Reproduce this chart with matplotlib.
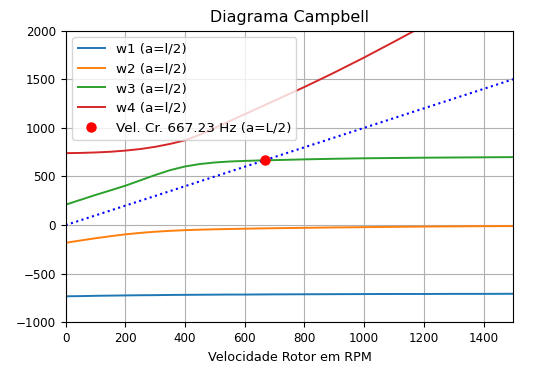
import matplotlib
matplotlib.use("Agg")
import matplotlib.pyplot as plt

rpm = [0, 50, 100, 150, 200, 250, 300, 350, 400, 450, 500, 550, 600, 650, 700,
       800, 900, 1000, 1100, 1200, 1300, 1400, 1500]
w1 = [-732, -730, -727, -725, -723, -721, -720, -718, -717, -716, -715, -714, -714, -713, -712,
      -711, -710, -709, -708, -708, -707, -707, -706]
w2 = [-182, -158, -135, -114, -95, -80, -68, -59, -52, -47, -43, -40, -37, -34, -32,
      -28, -24, -21, -18, -15, -13, -11, -10]
w3 = [210, 260, 310, 357, 405, 460, 515, 565, 603, 628, 644, 654, 660, 665, 668,
      676, 682, 687, 690, 693, 695, 697, 699]
w4 = [740, 742, 747, 754, 766, 782, 805, 835, 872, 930, 1000, 1070, 1140, 1210, 1280,
      1420, 1568, 1723, 1885, 2050, 2215, 2380, 2545]
ref_x = [0, 1500]
ref_y = [0, 1500]
crit_x = [667.23]
crit_y = [667.23]
labels = ["w1 (a=l/2)", "w2 (a=l/2)", "w3 (a=l/2)", "w4 (a=l/2)"]
crit_label = "Vel. Cr. 667.23 Hz (a=L/2)"

plt.rcParams['font.size'] = 8.6
fig = plt.figure(figsize=(5.52, 3.87), dpi=100)
ax = fig.add_axes([0.119, 0.167, 0.811, 0.754])

for ys, lab in zip([w1, w2, w3, w4], labels):
    ax.plot(rpm, ys, label=lab, lw=1.4)
ax.plot(ref_x, ref_y, 'b:', lw=1.5)
ax.plot(crit_x, crit_y, 'ro', ms=6.5, label=crit_label)

ax.set_xlim(0, 1500)
ax.set_ylim(-1000, 2000)
ax.grid(True)
ax.tick_params(labelsize=8.6)
ax.set_title("Diagrama Campbell", fontsize=11.4)
ax.set_xlabel("Velocidade Rotor em RPM", fontsize=9.2)
ax.legend(loc='upper left', fontsize=9.7)

fig.savefig("out.png", dpi=100)
